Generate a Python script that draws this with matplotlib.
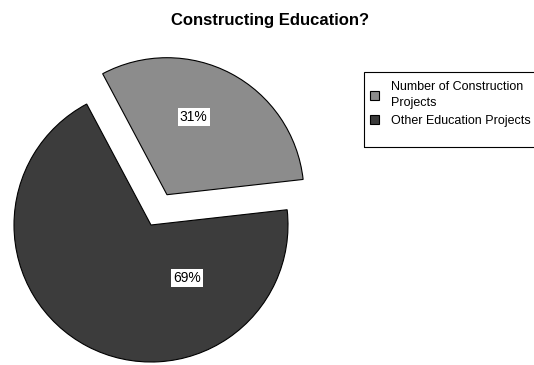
import math
import matplotlib
matplotlib.use("Agg")
import matplotlib.pyplot as plt
from matplotlib.patches import Rectangle

plt.rcParams["font.family"] = ["Liberation Sans", "DejaVu Sans"]

categories = ["Number of Construction\nProjects", "Other Education Projects"]
shares = [31, 69]
colors = ["#8c8c8c", "#3c3c3c"]

W, H = 534, 365
fig = plt.figure(figsize=(W / 100, H / 100), dpi=100)
ax = fig.add_axes([0, 0, 1, 1])

radius = 137
center = (151, H - 225)
explode = [0.25 * radius, 0]

wedges, texts, autotexts = ax.pie(
    shares,
    colors=colors,
    startangle=118,
    counterclock=False,
    radius=radius,
    center=center,
    explode=explode,
    autopct=lambda p: f"{p:.0f}%",
    pctdistance=0.6,
    wedgeprops=dict(edgecolor="black", linewidth=0.8),
    textprops=dict(fontsize=10, color="black"),
)

# nudge the percentage boxes to where the labels sit inside each slice
label_polar = [(0.6, 71), (0.47, -56)]
for w, t, (dist, ang) in zip(wedges, autotexts, label_polar):
    cx, cy = w.center
    t.set_position((cx + dist * radius * math.cos(math.radians(ang)),
                    cy + dist * radius * math.sin(math.radians(ang))))
    t.set_bbox(dict(facecolor="white", edgecolor="none", pad=1.5))

ax.set_xlim(0, W)
ax.set_ylim(0, H)
ax.set_aspect("equal")
ax.axis("off")

fig.text(270 / W, 1 - 20 / H, "Constructing Education?", ha="center", va="center",
         fontsize=12, fontweight="bold")

# legend box runs off the right edge of the page
fig.patches.append(Rectangle((364 / W, 1 - 147 / H), 180 / W, 75 / H,
                             transform=fig.transFigure, fill=False,
                             edgecolor="black", linewidth=0.8))
leg = fig.legend(wedges, categories, loc="upper left",
                 bbox_to_anchor=(370 / W, 1 - 81 / H),
                 fontsize=9, frameon=False,
                 handlelength=0.7, handleheight=0.7, handletextpad=1.0,
                 borderpad=0, labelspacing=0.45, borderaxespad=0)
for t in leg.get_texts():
    t.set_linespacing(1.45)

fig.savefig("out.png", dpi=100)
